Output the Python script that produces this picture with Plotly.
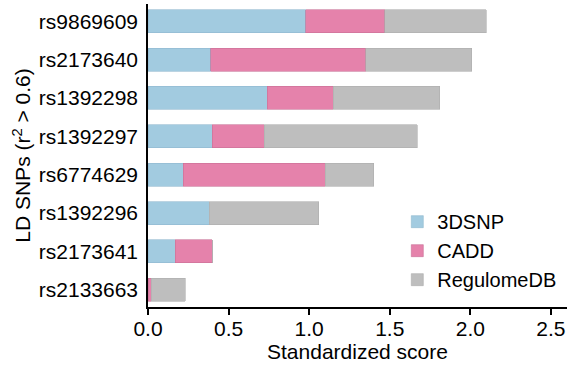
import plotly.graph_objects as go

# LD SNPs, listed top to bottom
snps = ["rs9869609", "rs2173640", "rs1392298", "rs1392297",
        "rs6774629", "rs1392296", "rs2173641", "rs2133663"]

# standardized score contributed by each annotation source
score_3dsnp = [0.98, 0.39, 0.74, 0.40, 0.22, 0.38, 0.17, 0.00]
score_cadd = [0.49, 0.96, 0.41, 0.32, 0.88, 0.00, 0.23, 0.02]
score_regulomedb = [0.63, 0.66, 0.66, 0.95, 0.30, 0.68, 0.00, 0.21]

x_ticks = [0.0, 0.5, 1.0, 1.5, 2.0, 2.5]

series = [
    ("3DSNP", score_3dsnp, "#a2cbe0", "#8fb8cf"),
    ("CADD", score_cadd, "#e582ab", "#c86f96"),
    ("RegulomeDB", score_regulomedb, "#bebebe", "#adadad"),
]

FONT = "Arial, Liberation Sans, sans-serif"

fig = go.Figure()
for name, vals, fill, edge in series:
    fig.add_trace(go.Bar(
        name=name,
        y=snps,
        x=vals,
        orientation="h",
        width=0.6,
        marker=dict(color=fill, line=dict(color=edge, width=0.6)),
    ))

fig.update_layout(
    barmode="stack",
    width=581,
    height=366,
    margin=dict(l=148, r=14, t=4, b=59, pad=0),
    paper_bgcolor="white",
    plot_bgcolor="white",
    font=dict(family=FONT, size=21, color="black"),
    showlegend=True,
    legend=dict(
        x=0.595, y=0.346, xanchor="left", yanchor="top",
        bgcolor="rgba(0,0,0,0)",
        font=dict(size=20, family=FONT),
        itemwidth=30,
        traceorder="normal",
        tracegroupgap=0,
    ),
    xaxis=dict(
        range=[0, 2.6],
        tickmode="array",
        tickvals=x_ticks,
        ticktext=[f"{t:.1f}" for t in x_ticks],
        ticks="outside",
        ticklen=6,
        tickwidth=1.5,
        tickcolor="black",
        showline=True,
        linecolor="black",
        linewidth=1.5,
        showgrid=False,
        zeroline=False,
        ticklabelstandoff=-4,
        title=dict(text="Standardized score", font=dict(size=21), standoff=4),
        tickfont=dict(size=21),
    ),
    yaxis=dict(
        categoryorder="array",
        categoryarray=snps,
        range=[7.45, -0.45],
        ticks="",
        showline=True,
        linecolor="black",
        linewidth=1.5,
        showgrid=False,
        zeroline=False,
        ticklabelstandoff=4,
        title=dict(text="LD SNPs (r<sup>2</sup> > 0.6)", font=dict(size=21), standoff=2),
        tickfont=dict(size=21),
    ),
)

fig.write_html("out.html")
